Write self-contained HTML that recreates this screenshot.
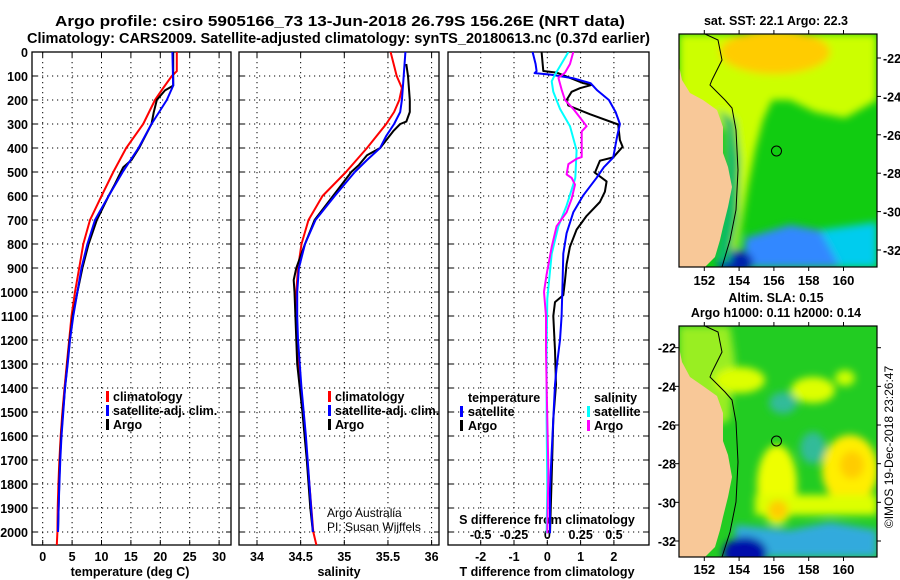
<!DOCTYPE html>
<html><head><meta charset="utf-8"><style>
html,body{margin:0;padding:0;background:#fff;}
svg{display:block;font-family:"Liberation Sans",sans-serif;}
.b{font-weight:bold;font-size:13px;}
.t{font-weight:bold;font-size:12.5px;}
.h{font-weight:bold;font-size:14.5px;}
</style></head><body>
<svg id="c" width="900" height="580" viewBox="0 0 900 580">
<defs>
<filter id="bl" x="-10%" y="-10%" width="120%" height="120%"><feGaussianBlur stdDeviation="4"/></filter>
<clipPath id="m1c"><rect x="679" y="34" width="198" height="233"/></clipPath>
<clipPath id="m2c"><rect x="679" y="326" width="198" height="231"/></clipPath>
<clipPath id="p1c"><rect x="32" y="52" width="199" height="493"/></clipPath>
<clipPath id="p2c"><rect x="239" y="52" width="200" height="493"/></clipPath>
<clipPath id="p3c"><rect x="448" y="52" width="201" height="493"/></clipPath>
</defs>
<text class="h" x="55" y="26" textLength="570" lengthAdjust="spacingAndGlyphs">Argo profile: csiro 5905166_73 13-Jun-2018 26.79S 156.26E (NRT data)</text>
<text class="h" x="27" y="43" textLength="623" lengthAdjust="spacingAndGlyphs">Climatology: CARS2009. Satellite-adjusted climatology: synTS_20180613.nc (0.37d earlier)</text>

<g id="grid"></g>
<g id="axes"></g>
<g id="series"></g>

<g class="t">
<rect x="106" y="391" width="3" height="11" fill="#f00"/><text x="113" y="401">climatology</text>
<rect x="106" y="405" width="3" height="11" fill="#00f"/><text x="113" y="415">satellite-adj. clim.</text>
<rect x="106" y="419" width="3" height="11" fill="#000"/><text x="113" y="429">Argo</text>
</g>
<g class="t">
<rect x="328" y="391" width="3" height="11" fill="#f00"/><text x="335" y="401">climatology</text>
<rect x="328" y="405" width="3" height="11" fill="#00f"/><text x="335" y="415">satellite-adj. clim.</text>
<rect x="328" y="419" width="3" height="11" fill="#000"/><text x="335" y="429">Argo</text>
</g>
<g class="t">
<text x="468" y="402">temperature</text>
<rect x="460" y="406" width="3" height="11" fill="#00f"/><text x="468" y="416">satellite</text>
<rect x="460" y="420" width="3" height="11" fill="#000"/><text x="468" y="430">Argo</text>
<text x="594" y="402">salinity</text>
<rect x="587" y="406" width="3" height="11" fill="#0ff"/><text x="594" y="416">satellite</text>
<rect x="587" y="420" width="3" height="11" fill="#f0f"/><text x="594" y="430">Argo</text>
</g>
<text x="327" y="517" font-size="12">Argo Australia</text>
<text x="327" y="531" font-size="12">PI: Susan Wijffels</text>

<text class="t" x="776" y="25" text-anchor="middle">sat. SST: 22.1 Argo: 22.3</text>
<g clip-path="url(#m1c)">
<rect x="679" y="34" width="198" height="233" fill="#11cc11"/>
<g filter="url(#bl)">
<polygon points="679,34 877,34 877,100 845,118 815,112 790,100 772,100 763,120 755,150 748,185 742,220 736,255 725,262 725,130 679,100" fill="#ccff00"/>
<ellipse cx="775" cy="52" rx="55" ry="22" fill="#ffcc00"/>
<polygon points="745,238 790,225 830,232 877,225 877,267 745,267" fill="#3388ff"/>
<polygon points="820,230 877,222 877,267 840,267" fill="#00ccee"/>
<ellipse cx="735" cy="262" rx="18" ry="12" fill="#0022aa"/>
<polygon points="718,110 735,120 740,160 738,220 730,262 715,262 725,200 726,130" fill="#11bb66"/>
</g>
<polygon points="679,66 682,80 690,93 703,100 717,110 723,127 723,153 728,167 732,187 728,207 723,227 720,240 715,257 705,267 679,267" fill="#f8c898"/>
<path d="M705,34 L718,40 L722,60 L712,80 L710,85 L725,100 L732,108 L736,130 L738,170 L736,210 L730,240 L722,267" fill="none" stroke="#000" stroke-width="1"/>
<circle cx="776.5" cy="151" r="5" fill="none" stroke="#000" stroke-width="1"/>
</g>
<rect x="679" y="34" width="198" height="233" fill="none" stroke="#000" stroke-width="1.2"/>

<text class="t" x="776" y="302" text-anchor="middle">Altim. SLA: 0.15</text>
<text class="t" x="776" y="317" text-anchor="middle">Argo h1000: 0.11 h2000: 0.14</text>
<g clip-path="url(#m2c)">
<rect x="679" y="326" width="198" height="231" fill="#22cc22"/>
<g filter="url(#bl)">
<polygon points="679,326 730,326 735,360 730,420 679,440" fill="#99ee22"/>
<ellipse cx="740" cy="380" rx="25" ry="13" fill="#ddff00"/>
<ellipse cx="813" cy="390" rx="22" ry="13" fill="#ddff00"/>
<ellipse cx="845" cy="378" rx="10" ry="8" fill="#ccff00"/>
<ellipse cx="783" cy="403" rx="14" ry="11" fill="#33bb99"/>
<ellipse cx="813" cy="448" rx="13" ry="16" fill="#33bb99"/>
<ellipse cx="777" cy="485" rx="20" ry="40" fill="#eeff00"/>
<ellipse cx="850" cy="470" rx="28" ry="35" fill="#ffee00"/>
<rect x="755" y="495" width="122" height="20" fill="#ddff00"/>
<ellipse cx="778" cy="510" rx="10" ry="10" fill="#ffcc00"/>
<ellipse cx="852" cy="465" rx="12" ry="14" fill="#ffcc00"/>
<polygon points="735,525 790,530 830,522 877,530 877,557 735,557" fill="#33aadd"/>
<ellipse cx="745" cy="553" rx="22" ry="16" fill="#0011aa"/>
</g>
<polygon points="679,347 682,362 690,377 703,386 717,396 723,413 723,441 728,455 732,477 728,497 723,517 720,530 715,547 705,557 679,557" fill="#f8c898"/>
<path d="M705,326 L718,332 L722,352 L712,372 L710,377 L725,392 L732,400 L736,422 L738,462 L736,502 L730,532 L722,557" fill="none" stroke="#000" stroke-width="1"/>
<circle cx="776.5" cy="441" r="5" fill="none" stroke="#000" stroke-width="1"/>
</g>
<rect x="679" y="326" width="198" height="231" fill="none" stroke="#000" stroke-width="1.2"/>
<text x="893" y="447" font-size="12" text-anchor="middle" transform="rotate(-90 893 447)">©IMOS 19-Dec-2018 23:26:47</text>
<g id="maxes"></g>
</svg>
<script>
// ---- data ----
const tempDepth = [0,80,100,150,200,300,400,500,600,700,800,900,1000,1100,1200,1300,1400,1500,1600,1700,1800,1900,2000,2054];
const tempClim  = [22.8,22.8,21.95,20.5,19.1,17.1,14.2,12.0,10.0,8.05,6.9,6.2,5.5,4.9,4.5,4.1,3.7,3.35,3.06,2.84,2.67,2.55,2.5,2.4];
const tempSatDepth = [0,140,200,300,400,500,600,700,800,900,1000,1100,1200,1300,1400,1500,1600,1700,1800,1900,2000];
const tempSat   = [22.06,22.2,21.1,18.5,16.3,13.6,11.2,8.9,7.6,6.6,5.9,5.2,4.65,4.25,3.8,3.5,3.2,3.0,2.84,2.7,2.6];
const tempArgoDepth = [0,140,160,200,250,300,400,450,480,500,550,600,700,800,900,1000,1100,1200,1300,1400,1500,1600,1700,1800,1900,2000];
const tempArgo  = [22.2,22.2,20.8,19.4,18.9,18.5,16.4,15.1,13.7,13.3,12.3,11.2,9.2,7.8,6.75,5.9,5.1,4.6,4.2,3.8,3.45,3.15,2.95,2.8,2.7,2.6];

const salDepth = [0,100,150,200,250,300,400,500,600,700,800,900,1000,1100,1200,1400,1600,1800,2000,2054];
const salClim  = [35.53,35.60,35.66,35.63,35.57,35.48,35.26,35.02,34.75,34.59,34.51,34.47,34.45,34.45,34.46,34.50,34.55,34.60,34.645,34.68];
const salSatDepth = [0,100,200,250,300,350,400,450,500,600,700,800,900,1000,1100,1200,1400,1600,1800,2000];
const salSat   = [35.70,35.68,35.66,35.64,35.57,35.48,35.41,35.26,35.12,34.89,34.67,34.55,34.48,34.46,34.46,34.47,34.51,34.56,34.60,34.64];
const salArgoDepth = [50,100,150,200,250,290,300,330,400,430,470,500,600,700,800,900,950,1000,1100,1300,1500,1700,1900,2000];
const salArgo  = [35.71,35.73,35.74,35.75,35.75,35.71,35.64,35.56,35.41,35.26,35.17,35.08,34.87,34.66,34.55,34.45,34.42,34.43,34.44,34.46,34.52,34.57,34.61,34.64];

const dTSatDepth = [0,50,80,88,94,110,130,160,200,250,300,350,440,480,524,597,668,755,840,956,1100,1200,1315,1386,1530,1674,1818,2005];
const dTSat = [-0.44,-0.35,-0.32,-0.38,0.1,0.8,1.3,1.5,1.85,2.05,2.18,2.1,1.98,1.7,1.48,1.08,0.78,0.58,0.48,0.46,0.43,0.38,0.28,0.23,0.18,0.13,0.08,0.08];
const dTArgoDepth = [0,79,86,130,137,151,166,200,223,259,302,367,395,439,453,503,539,582,625,683,740,812,884,956,1013,1042,1100,1243,1386,1530,1782,2005];
const dTArgo = [-0.17,-0.12,0.28,1.08,1.33,0.98,0.73,0.58,0.63,1.28,2.13,2.18,2.26,1.98,1.58,1.43,1.78,1.73,1.58,1.18,0.88,0.68,0.58,0.53,0.48,0.23,0.18,0.23,0.26,0.18,0.13,0.08];
const dSSatDepth = [0,36,94,122,166,237,309,410,525,640,726,841,1028,1243,1530,1818,2005];
const dSSat = [0.158,0.12,0.058,0.033,0.045,0.095,0.17,0.22,0.21,0.145,0.083,0.033,0,-0.005,-0.005,0,-0.005];
const dSArgoDepth = [0,50,86,108,158,200,237,309,331,438,445,467,510,525,553,611,668,726,812,927,999,1100,1243,1386,1746,2005];
const dSArgo = [0.195,0.17,0.133,0.083,0.108,0.133,0.195,0.295,0.258,0.258,0.22,0.158,0.145,0.183,0.208,0.183,0.145,0.07,0.033,-0.005,-0.025,-0.01,-0.01,-0.005,0.008,0];

const depthTicks = [0,100,200,300,400,500,600,700,800,900,1000,1100,1200,1300,1400,1500,1600,1700,1800,1900,2000];
const tempTicks = [0,5,10,15,20,25,30];
const salTicks = [34,34.5,35,35.5,36];
const salTickLabels = ["34","34.5","35","35.5","36"];
const dTTicks = [-2,-1,0,1,2];
const dSTicks = [-0.5,-0.25,0,0.25,0.5];
const dSTickLabels = ["-0.5","-0.25","0","0.25","0.5"];
const lonTicks = [152,154,156,158,160];
const latTicks = [-22,-24,-26,-28,-30,-32];

const NS='http://www.w3.org/2000/svg';
const yD = d => 52 + d*0.24;
const xT = t => 42.7 + t*5.88;
const xS = s => 257 + (s-34)*87.3;
const xDT = v => 547.3 + v*33.3;
const xDS = v => 547.3 + v*133.3;
const xLon = l => 704.3 + (l-152)*17.4;
const yLat1 = l => 58 + (-22-l)*19.2;
const yLat2 = l => 347.7 + (-22-l)*19.33;

function mk(tag, parent){const e=document.createElementNS(NS,tag);parent.appendChild(e);return e;}
const G=document.getElementById('grid'), A=document.getElementById('axes'), S=document.getElementById('series'), M=document.getElementById('maxes');
const panels=[{x0:32,x1:231},{x0:239,x1:439},{x0:448,x1:649}];
const Y0=52,Y1=545;

function dline(p,x1,y1,x2,y2){const l=mk('line',p);l.setAttribute('x1',x1);l.setAttribute('y1',y1);l.setAttribute('x2',x2);l.setAttribute('y2',y2);l.setAttribute('stroke','#000');l.setAttribute('stroke-width','1');l.setAttribute('stroke-dasharray','1.2 3.8');

}
function sline(p,x1,y1,x2,y2,w){const l=mk('line',p);l.setAttribute('x1',x1);l.setAttribute('y1',y1);l.setAttribute('x2',x2);l.setAttribute('y2',y2);l.setAttribute('stroke','#000');l.setAttribute('stroke-width',w||1);

}
function txt(p,x,y,s,anchor,cls,name){const t=mk('text',p);t.setAttribute('x',x);t.setAttribute('y',y);t.textContent=s;t.setAttribute('text-anchor',anchor||'middle');t.setAttribute('class',cls||'t');

return t;}

panels.forEach(p=>{depthTicks.forEach(d=>{dline(G,p.x0,yD(d),p.x1,yD(d));sline(A,p.x0,yD(d),p.x0+5,yD(d));sline(A,p.x1-5,yD(d),p.x1,yD(d));});});
depthTicks.forEach(d=>txt(A,28,yD(d)+5,String(d),'end','t','depth-tick-label'));
tempTicks.forEach(t=>{dline(G,xT(t),Y0,xT(t),Y1);sline(A,xT(t),Y1-5,xT(t),Y1);sline(A,xT(t),Y0,xT(t),Y0+5);txt(A,xT(t),561,String(t),'middle','t','temperature-tick-label');});
salTicks.forEach((s,i)=>{dline(G,xS(s),Y0,xS(s),Y1);sline(A,xS(s),Y1-5,xS(s),Y1);sline(A,xS(s),Y0,xS(s),Y0+5);txt(A,xS(s),561,salTickLabels[i],'middle','t','salinity-tick-label');});
dTTicks.forEach(v=>{dline(G,xDT(v),Y0,xDT(v),Y1);sline(A,xDT(v),Y1-5,xDT(v),Y1);txt(A,xDT(v),561,String(v),'middle','t','t-difference-tick-label');});
dSTicks.forEach((v,i)=>{txt(A,xDS(v),539,dSTickLabels[i],'middle','t','s-difference-tick-label');});
txt(A,130,576,'temperature (deg C)','middle','t','x-axis-title-temperature');
txt(A,339,576,'salinity','middle','t','x-axis-title-salinity');
txt(A,547,576,'T difference from climatology','middle','t','x-axis-title-t-difference');
txt(A,547,524,'S difference from climatology','middle','t','x-axis-title-s-difference');
panels.forEach(p=>{const r=mk('rect',A);r.setAttribute('x',p.x0);r.setAttribute('y',Y0);r.setAttribute('width',p.x1-p.x0);r.setAttribute('height',Y1-Y0);r.setAttribute('fill','none');r.setAttribute('stroke','#000');r.setAttribute('stroke-width','1.3');

});

function series(vals,depths,xf,color,clip,name){const pl=mk('polyline',S);pl.setAttribute('points',vals.map((v,i)=>xf(v).toFixed(1)+','+yD(depths[i]).toFixed(1)).join(' '));pl.setAttribute('fill','none');pl.setAttribute('stroke',color);pl.setAttribute('stroke-width','2');pl.setAttribute('stroke-linejoin','round');pl.setAttribute('clip-path','url(#'+clip+')');

}
series(tempClim,tempDepth,xT,'#f00','p1c','temperature-climatology-line');
series(tempArgo,tempArgoDepth,xT,'#000','p1c','temperature-argo-line');
series(tempSat,tempSatDepth,xT,'#00f','p1c','temperature-satellite-line');
series(salClim,salDepth,xS,'#f00','p2c','salinity-climatology-line');
series(salArgo,salArgoDepth,xS,'#000','p2c','salinity-argo-line');
series(salSat,salSatDepth,xS,'#00f','p2c','salinity-satellite-line');
series(dTArgo,dTArgoDepth,xDT,'#000','p3c','t-diff-argo-line');
series(dTSat,dTSatDepth,xDT,'#00f','p3c','t-diff-satellite-line');
series(dSSat,dSSatDepth,xDS,'#0ff','p3c','s-diff-satellite-line');
series(dSArgo,dSArgoDepth,xDS,'#f0f','p3c','s-diff-argo-line');

// map 1: labels on right; map 2: labels on left
lonTicks.forEach(l=>{sline(M,xLon(l),30,xLon(l),34);sline(M,xLon(l),267,xLon(l),271);txt(M,xLon(l),285,String(l),'middle','b','map-lon-label');});
latTicks.forEach(l=>{sline(M,877,yLat1(l),881,yLat1(l));txt(M,883,yLat1(l)+5,String(l),'start','t','map-lat-label');});
lonTicks.forEach(l=>{sline(M,xLon(l),322,xLon(l),326);sline(M,xLon(l),557,xLon(l),561);txt(M,xLon(l),574,String(l),'middle','b','map-lon-label');});
latTicks.forEach(l=>{sline(M,675,yLat2(l),679,yLat2(l));sline(M,877,yLat2(l),881,yLat2(l));txt(M,676,yLat2(l)+5,String(l),'end','t','map-lat-label');});
</script>
</body></html>
